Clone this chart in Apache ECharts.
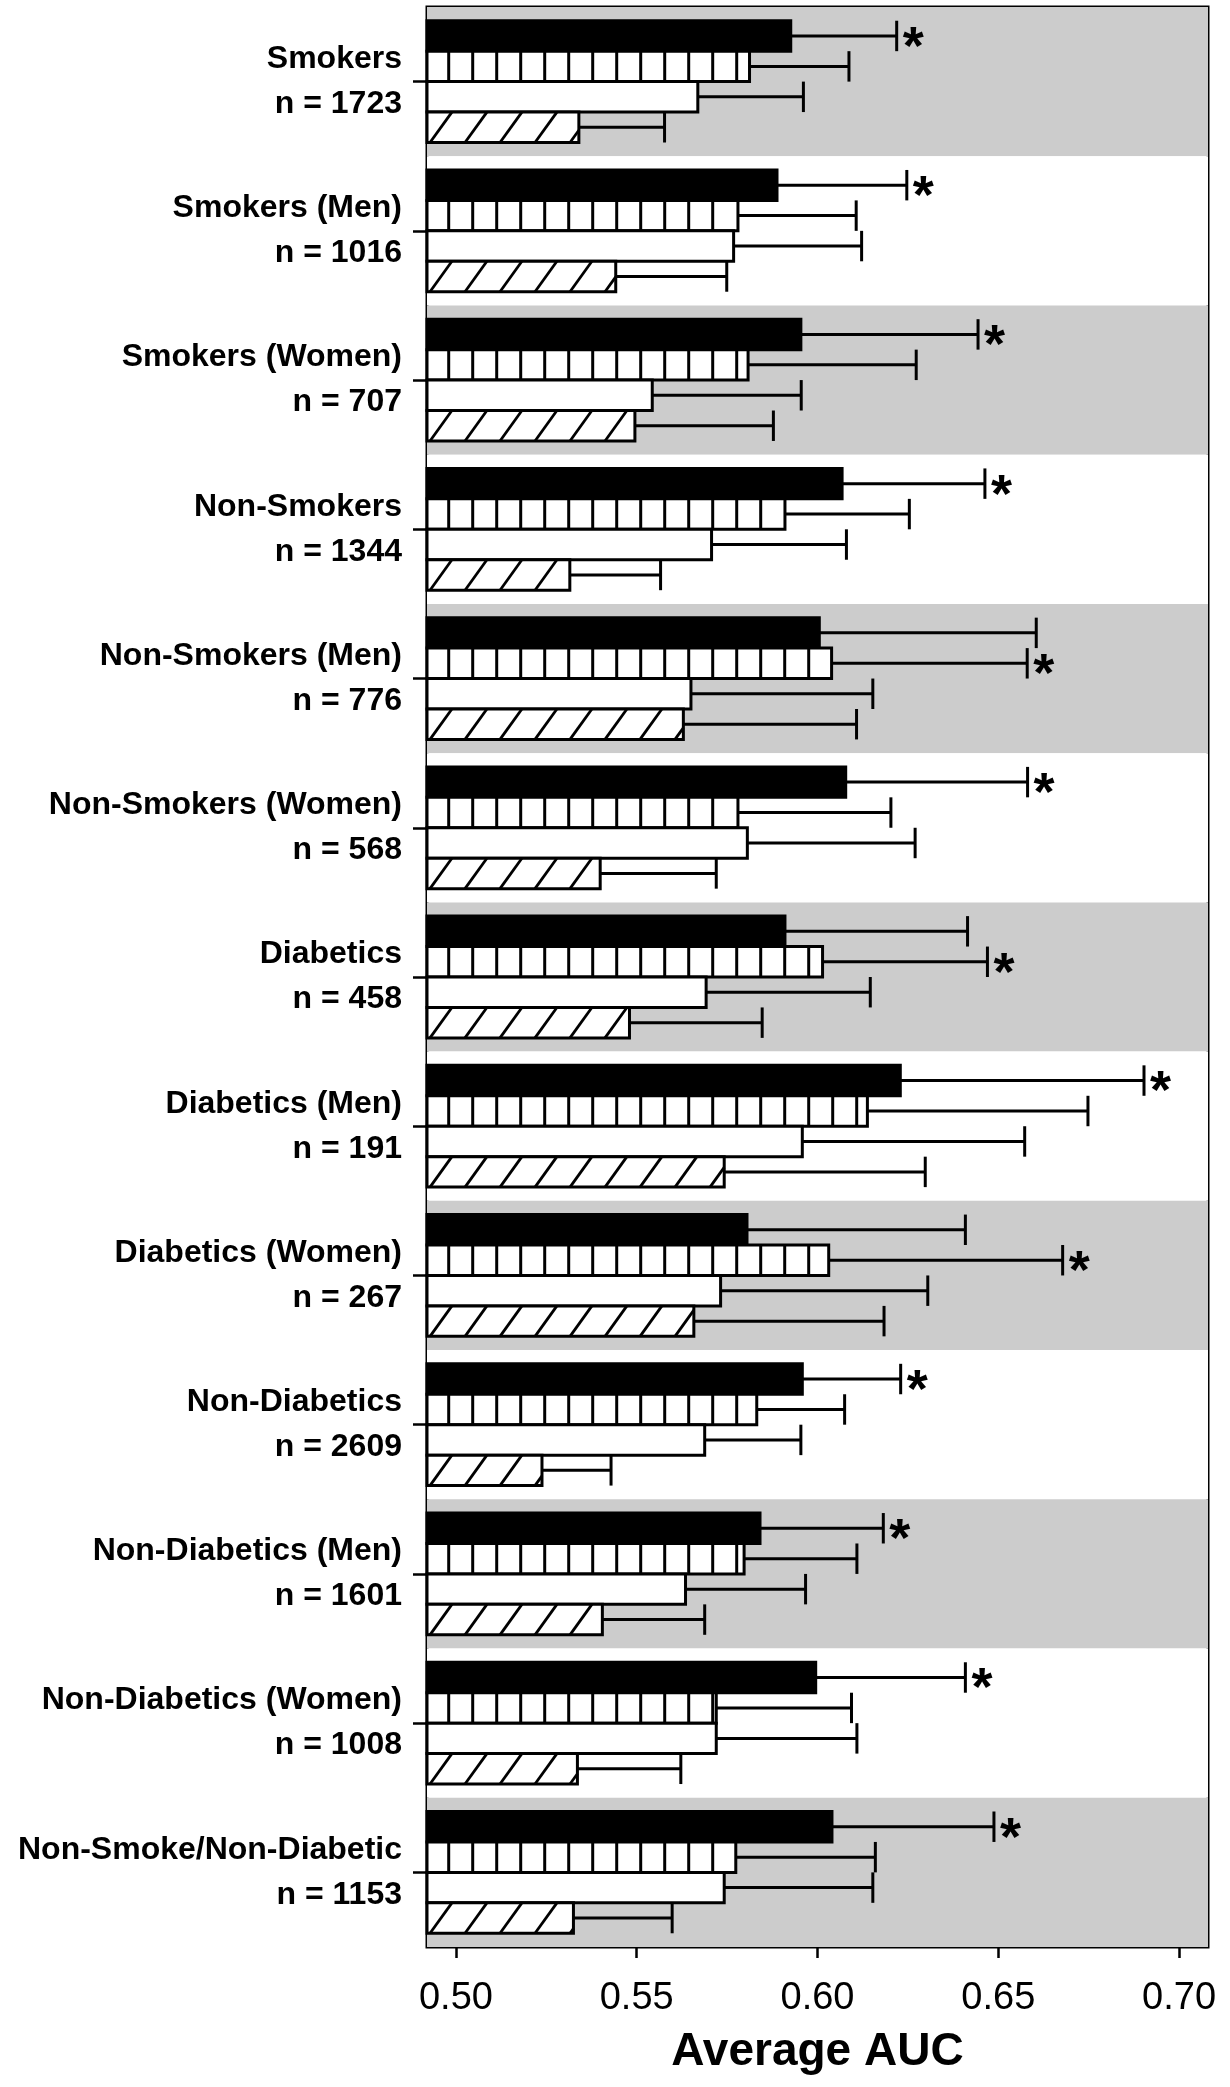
<!DOCTYPE html>
<html>
<head>
<meta charset="utf-8">
<script src="https://cdn.jsdelivr.net/npm/echarts@6/dist/echarts.min.js"></script>
<style>
  html, body { margin: 0; padding: 0; background: #fff; }
  #chart { width: 1230px; height: 2087px; }
</style>
</head>
<body>
<div id="chart"></div>
<script>
// ---------------- data ----------------
const groups = ['Smokers', 'Smokers (Men)', 'Smokers (Women)', 'Non-Smokers', 'Non-Smokers (Men)',
  'Non-Smokers (Women)', 'Diabetics', 'Diabetics (Men)', 'Diabetics (Women)', 'Non-Diabetics',
  'Non-Diabetics (Men)', 'Non-Diabetics (Women)', 'Non-Smoke/Non-Diabetic'];
const nCounts = [1723, 1016, 707, 1344, 776, 568, 458, 191, 267, 2609, 1601, 1008, 1153];

// series 1: solid black bars
const meanA  = [0.5926, 0.5888, 0.5954, 0.6068, 0.6005, 0.6078, 0.5910, 0.6229, 0.5805, 0.5958, 0.5841, 0.5995, 0.6040];
const upperA = [0.6219, 0.6247, 0.6444, 0.6463, 0.6605, 0.6581, 0.6415, 0.6903, 0.6409, 0.6230, 0.6182, 0.6409, 0.6488];
// series 2: vertical-striped bars
const meanB  = [0.5812, 0.5780, 0.5808, 0.5910, 0.6039, 0.5780, 0.6014, 0.6138, 0.6031, 0.5832, 0.5797, 0.5720, 0.5774];
const upperB = [0.6087, 0.6107, 0.6273, 0.6254, 0.6580, 0.6203, 0.6470, 0.6748, 0.6678, 0.6075, 0.6109, 0.6094, 0.6160];
// series 3: plain white bars
const meanC  = [0.5669, 0.5768, 0.5543, 0.5707, 0.5650, 0.5806, 0.5692, 0.5958, 0.5732, 0.5688, 0.5635, 0.5720, 0.5742];
const upperC = [0.5961, 0.6122, 0.5955, 0.6080, 0.6153, 0.6270, 0.6146, 0.6573, 0.6305, 0.5954, 0.5967, 0.6109, 0.6153];
// series 4: diagonal-hatched bars
const meanD  = [0.5340, 0.5442, 0.5495, 0.5315, 0.5629, 0.5399, 0.5480, 0.5742, 0.5658, 0.5238, 0.5405, 0.5336, 0.5325];
const upperD = [0.5577, 0.5749, 0.5878, 0.5566, 0.6108, 0.5720, 0.5847, 0.6298, 0.6184, 0.5429, 0.5688, 0.5622, 0.5598];

// which series (0..3) carries the significance asterisk in each group
const starSeries = [0, 0, 0, 0, 1, 0, 1, 0, 1, 0, 0, 0, 0];

const xTicks = [0.50, 0.55, 0.60, 0.65, 0.70];
const X_MIN = 0.492, X_MAX = 0.708;

// ---------------- chart ----------------
const FONT = '"Liberation Sans", Arial, Helvetica, sans-serif';
const chart = echarts.init(document.getElementById('chart'), null, { renderer: 'canvas' });

function renderItem(params, api) {
  const slot = params.seriesIndex;
  const cat = api.value(1);
  const end = api.coord([api.value(0), cat]);
  const x0 = api.coord([X_MIN, cat])[0];
  const xe = api.coord([api.value(2), cat])[0];
  const band = api.size([0, 1])[1];
  const h = band * 0.204;
  const top = end[1] - 2 * h + slot * h;
  const xr = end[0];
  const children = [];
  children.push({
    type: 'rect',
    shape: { x: x0, y: top, width: xr - x0, height: h },
    style: { fill: slot === 0 ? '#000' : '#fff', stroke: '#000', lineWidth: 3 }
  });
  if (slot === 1) {
    for (let x = x0 + 21.7; x < xr - 1.5; x += 24) {
      children.push({ type: 'line', shape: { x1: x, y1: top, x2: x, y2: top + h },
        style: { stroke: '#000', lineWidth: 3 } });
    }
  }
  if (slot === 3) {
    const dx = h * 0.72;
    for (let xb = x0 + 3 - 35; xb < xr; xb += 35) {
      const t0 = Math.max(0, (x0 - xb) / dx);
      const t1 = Math.min(1, (xr - xb) / dx);
      if (t1 > t0) {
        children.push({ type: 'line',
          shape: { x1: xb + t0 * dx, y1: top + h - t0 * h, x2: xb + t1 * dx, y2: top + h - t1 * h },
          style: { stroke: '#000', lineWidth: 2.8 } });
      }
    }
  }
  const cy = top + h / 2;
  children.push({ type: 'line', shape: { x1: xr, y1: cy, x2: xe, y2: cy },
    style: { stroke: '#000', lineWidth: 3 } });
  children.push({ type: 'line', shape: { x1: xe, y1: top, x2: xe, y2: top + h },
    style: { stroke: '#000', lineWidth: 3 } });
  if (api.value(3) === 1) {
    children.push({ type: 'text',
      style: { text: '*', x: xe + 6, y: cy + 13, font: 'bold 54px ' + FONT, fill: '#000',
        align: 'left', verticalAlign: 'middle' } });
  }
  return { type: 'group', children };
}

const seriesSets = [[meanA, upperA], [meanB, upperB], [meanC, upperC], [meanD, upperD]];
const seriesNames = ['Series 1', 'Series 2', 'Series 3', 'Series 4'];

const option = {
  animation: false,
  backgroundColor: '#fff',
  textStyle: { fontFamily: FONT },
  grid: { left: 427, right: 22, top: 7, bottom: 140, show: true, borderColor: '#000', borderWidth: 3,
    backgroundColor: 'transparent', containLabel: false },
  xAxis: {
    type: 'value', min: X_MIN, max: X_MAX,
    axisLine: { show: false },
    splitLine: { show: false },
    axisTick: { show: true, customValues: xTicks, length: 11, lineStyle: { color: '#000', width: 2.5 } },
    axisLabel: { show: true, customValues: xTicks, margin: 33, fontSize: 38, color: '#000', fontFamily: FONT,
      formatter: v => v.toFixed(2) },
    name: 'Average AUC', nameLocation: 'middle', nameGap: 82,
    nameTextStyle: { fontSize: 46, fontWeight: 'bold', color: '#000', fontFamily: FONT }
  },
  yAxis: {
    type: 'category', inverse: true, data: groups,
    axisLine: { show: false },
    axisTick: { show: true, alignWithLabel: true, length: 14, lineStyle: { color: '#000', width: 2.5 } },
    axisLabel: { margin: 25, fontSize: 32, fontWeight: 'bold', color: '#000', lineHeight: 45, align: 'right',
      fontFamily: FONT,
      formatter: (v, i) => v + '\nn = ' + nCounts[i] },
    splitArea: { show: true, areaStyle: { color: ['#cccccc', '#ffffff'] } },
    splitLine: { show: false }
  },
  series: seriesSets.map((s, si) => ({
    type: 'custom',
    name: seriesNames[si],
    renderItem: renderItem,
    encode: { x: 0, y: 1 },
    data: groups.map((g, i) => [s[0][i], i, s[1][i], starSeries[i] === si ? 1 : 0])
  }))
};
chart.setOption(option);
</script>
</body>
</html>
